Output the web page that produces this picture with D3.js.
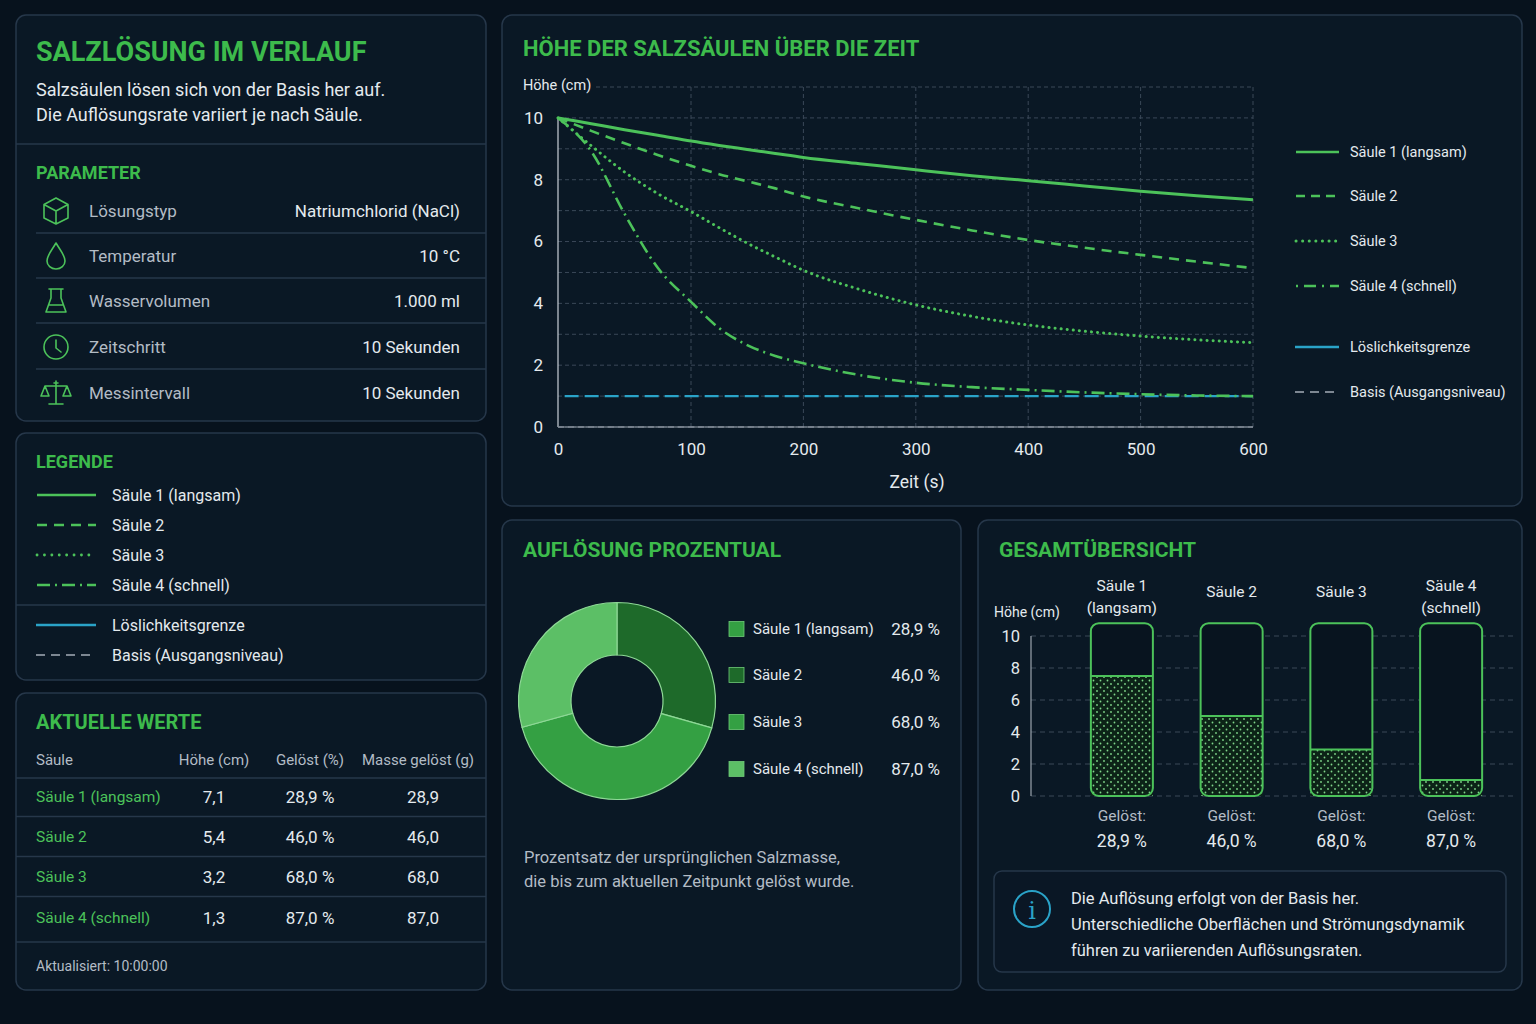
<!DOCTYPE html>
<html lang="de">
<head>
<meta charset="utf-8">
<script src="https://cdn.jsdelivr.net/npm/d3@7"></script>
<style>
  html,body{margin:0;padding:0;background:#07121d;}
  svg{display:block;font-family:Roboto,"Noto Sans",sans-serif;}
</style>
</head>
<body>
<svg id="c" width="1536" height="1024"></svg>
<script>
// ---------------- DATA ----------------
const seriesNames = ["Säule 1 (langsam)", "Säule 2", "Säule 3", "Säule 4 (schnell)"];
const times   = [0, 25, 50, 75, 100, 125, 150, 175, 200, 250, 300, 350, 400, 450, 500, 550, 600];
const saeule1 = [10, 9.81, 9.62, 9.44, 9.25, 9.11, 8.98, 8.85, 8.72, 8.52, 8.32, 8.13, 7.97, 7.80, 7.63, 7.48, 7.35];
const saeule2 = [10, 9.58, 9.18, 8.80, 8.45, 8.18, 7.95, 7.72, 7.46, 7.07, 6.70, 6.36, 6.05, 5.80, 5.57, 5.35, 5.14];
const saeule3 = [10, 9.10, 8.25, 7.55, 6.97, 6.45, 5.95, 5.50, 5.07, 4.45, 3.95, 3.58, 3.30, 3.10, 2.94, 2.82, 2.73];
const saeule4 = [10, 8.92, 6.90, 5.15, 4.05, 3.20, 2.65, 2.30, 2.06, 1.68, 1.43, 1.29, 1.20, 1.12, 1.06, 1.02, 1.00];
const solubilityLimit = 1.0;
const solubilityStart = 5;
const baseLevel = 0;
const xTicks = [0, 100, 200, 300, 400, 500, 600];
const yTicks = [0, 2, 4, 6, 8, 10];
const yGrid = [0, 1, 2, 3, 4, 5, 6, 7, 8, 9, 10, 11];

const paramLabels = ["Lösungstyp", "Temperatur", "Wasservolumen", "Zeitschritt", "Messintervall"];
const paramValues = ["Natriumchlorid (NaCl)", "10 °C", "1.000 ml", "10 Sekunden", "10 Sekunden"];
const paramIcons = ["cube", "drop", "flask", "clock", "scale"];

const tableHeaders = ["Säule", "Höhe (cm)", "Gelöst (%)", "Masse gelöst (g)"];
const currentHeights = [7.1, 5.4, 3.2, 1.3];
const dissolvedPct = [28.9, 46.0, 68.0, 87.0];
const massDissolved = [28.9, 46.0, 68.0, 87.0];

const donutSlices = ["Säule 2", "Säule 3", "Säule 4 (schnell)"];
const donutShares = [29.4, 41.3, 29.3];

const barLabelsTop = [["Säule 1", "(langsam)"], ["Säule 2"], ["Säule 3"], ["Säule 4", "(schnell)"]];
const barHeights = [7.5, 5.0, 2.9, 1.0];
const barYTicks = [0, 2, 4, 6, 8, 10];
const columnMax = 10.8;

// ---------------- STYLE ----------------
const C = {
  panel: "#0a1825", border: "#26374a", title: "#3dbb4c", line: "#4cc25a",
  text: "#e4eaee", sub: "#b3bcc5", blue: "#2aa3c8", gray: "#7d8792", grid: "#3a4858",
  dark: "#1e6a2a", mid: "#34a043", light: "#5cbf66"
};
const dashes = ["", "10,7", "0.1,6", "13,5,2,5"];
const seriesData = [saeule1, saeule2, saeule3, saeule4];
const loc = d3.formatLocale({decimal: ",", thousands: ".", grouping: [3], currency: ["", "€"]});
const f1 = loc.format(".1f");

const svg = d3.select("#c");
const defs = svg.append("defs");
const pat = defs.append("pattern").attr("id", "dots").attr("patternUnits", "userSpaceOnUse")
  .attr("width", 7).attr("height", 7);
pat.append("rect").attr("width", 7).attr("height", 7).attr("fill", "#0c2317");
pat.append("circle").attr("cx", 1.5).attr("cy", 1.5).attr("r", 0.9).attr("fill", "#7fd68a");
pat.append("circle").attr("cx", 5).attr("cy", 5).attr("r", 0.9).attr("fill", "#7fd68a");

svg.append("rect").attr("width", 1536).attr("height", 1024).attr("fill", "#07121d");

function panel(x, y, w, h) {
  svg.append("rect").attr("x", x).attr("y", y).attr("width", w).attr("height", h)
    .attr("rx", 10).attr("fill", C.panel).attr("stroke", C.border).attr("stroke-width", 1.5);
}
function text(x, y, s, o = {}) {
  return svg.append("text").attr("x", x).attr("y", y).text(s)
    .attr("dominant-baseline", "central")
    .attr("font-size", o.size || 16).attr("font-weight", o.weight || 400)
    .attr("fill", o.fill || C.text).attr("text-anchor", o.anchor || "start");
}
function hline(x1, x2, y, col) {
  svg.append("line").attr("x1", x1).attr("x2", x2).attr("y1", y).attr("y2", y)
    .attr("stroke", col || C.border).attr("stroke-width", 1.5);
}

// ---------------- PANEL A ----------------
panel(16, 15, 470, 406);
text(36, 52, "SALZLÖSUNG IM VERLAUF", {size: 27, weight: 700, fill: C.title});
text(36, 89, "Salzsäulen lösen sich von der Basis her auf.", {size: 18});
text(36, 114, "Die Auflösungsrate variiert je nach Säule.", {size: 18});
hline(16, 486, 144);
text(36, 172, "PARAMETER", {size: 18, weight: 700, fill: C.title});
const rowY = [211, 256, 301, 347, 393];
paramLabels.forEach((l, i) => {
  const y = rowY[i];
  text(89, y, l, {size: 17, fill: C.sub});
  text(460, y, paramValues[i], {size: 17, anchor: "end"});
  if (i < paramLabels.length - 1) hline(36, 486, y + 22);
  const g = svg.append("g").attr("transform", `translate(56,${y})`)
    .attr("fill", "none").attr("stroke", C.line).attr("stroke-width", 1.6)
    .attr("stroke-linejoin", "round").attr("stroke-linecap", "round");
  const ic = paramIcons[i];
  if (ic === "cube") {
    g.append("path").attr("d", "M0,-13 L12,-6.5 L12,7 L0,13 L-12,7 L-12,-6.5 Z M-12,-6.5 L0,0 L12,-6.5 M0,0 L0,13");
  } else if (ic === "drop") {
    g.append("path").attr("d", "M0,-13 C4,-6 9,-1 9,5 A9,8 0 0 1 -9,5 C-9,-1 -4,-6 0,-13 Z");
  } else if (ic === "flask") {
    g.append("path").attr("d", "M-7,-12 L7,-12 M-5,-12 L-5,-3 L-10,11 L10,11 L5,-3 L5,-12 M-7.5,4 L7.5,4");
  } else if (ic === "clock") {
    g.append("circle").attr("r", 12);
    g.append("path").attr("d", "M0,-7 L0,1 L5,5");
  } else {
    g.append("path").attr("d", "M0,-12 L0,11 M-7,11 L7,11 M-11,-7 L11,-7 M-11,-7 L-15,3 L-7,3 Z M11,-7 L7,3 L15,3 Z M-2,-10 L2,-10");
  }
});

// ---------------- PANEL B (Legende) ----------------
panel(16, 433, 470, 247);
text(36, 461, "LEGENDE", {size: 18, weight: 700, fill: C.title});
const legY = [495, 525, 555, 585];
seriesNames.forEach((n, i) => {
  svg.append("line").attr("x1", 37).attr("x2", 96).attr("y1", legY[i]).attr("y2", legY[i])
    .attr("stroke", C.line).attr("stroke-width", i === 2 ? 2.8 : 2.5)
    .attr("stroke-linecap", i === 2 ? "round" : "butt")
    .attr("stroke-dasharray", i === 2 ? "0.1,7.3" : (dashes[i] || null));
  text(112, legY[i], n, {size: 16});
});
hline(16, 486, 605);
svg.append("line").attr("x1", 36).attr("x2", 96).attr("y1", 625).attr("y2", 625)
  .attr("stroke", C.blue).attr("stroke-width", 2.5);
text(112, 625, "Löslichkeitsgrenze", {size: 16});
svg.append("line").attr("x1", 36).attr("x2", 96).attr("y1", 655).attr("y2", 655)
  .attr("stroke", C.gray).attr("stroke-width", 2).attr("stroke-dasharray", "9,6");
text(112, 655, "Basis (Ausgangsniveau)", {size: 16});

// ---------------- PANEL C (Tabelle) ----------------
panel(16, 693, 470, 297);
text(36, 722, "AKTUELLE WERTE", {size: 20, weight: 700, fill: C.title});
const colX = [36, 214, 310, 418];
tableHeaders.forEach((h, i) => text(colX[i], 760, h, {size: 15, fill: C.sub, anchor: i === 0 ? "start" : "middle"}));
hline(16, 486, 778);
const trY = [797, 837, 877, 918];
seriesNames.forEach((n, i) => {
  text(36, trY[i], n, {size: 15.5, fill: C.line});
  text(214, trY[i], f1(currentHeights[i]), {size: 17, anchor: "middle"});
  text(310, trY[i], f1(dissolvedPct[i]) + " %", {size: 17, anchor: "middle"});
  text(423, trY[i], f1(massDissolved[i]), {size: 17, anchor: "middle"});
  hline(16, 486, trY[i] + (i === 3 ? 24 : 19.5));
});
text(36, 966, "Aktualisiert: 10:00:00", {size: 14, fill: C.sub});

// ---------------- PANEL D (Liniendiagramm) ----------------
panel(502, 15, 1020, 491);
text(523, 48, "HÖHE DER SALZSÄULEN ÜBER DIE ZEIT", {size: 22, weight: 700, fill: C.title});
const x = d3.scaleLinear().domain([0, 100, 600]).range([558, 691, 1253]);
const y = d3.scaleLinear().domain([0, 11]).range([427, 87]);
const gGrid = svg.append("g");
gGrid.selectAll("line.h").data(yGrid).join("line")
  .attr("x1", d => d === 11 ? 596 : x(0)).attr("x2", x(600))
  .attr("y1", d => y(d)).attr("y2", d => y(d))
  .attr("stroke", C.grid).attr("stroke-width", 1).attr("stroke-dasharray", "4,3");
gGrid.selectAll("line.v").data(xTicks.slice(1)).join("line")
  .attr("x1", d => x(d)).attr("x2", d => x(d)).attr("y1", y(11)).attr("y2", y(0))
  .attr("stroke", C.grid).attr("stroke-width", 1).attr("stroke-dasharray", "4,3");
svg.append("line").attr("x1", x(0)).attr("x2", x(0)).attr("y1", y(10)).attr("y2", y(0))
  .attr("stroke", "#c9d1d8").attr("stroke-width", 1.2);
svg.append("line").attr("x1", x(0)).attr("x2", x(600)).attr("y1", y(0)).attr("y2", y(0))
  .attr("stroke", "#9aa4ad").attr("stroke-width", 1.2);

const yAx = svg.append("g").attr("transform", `translate(${x(0)},0)`)
  .call(d3.axisLeft(y).tickValues(yTicks).tickSize(0).tickPadding(15).tickFormat(d3.format("d")));
yAx.select(".domain").remove();
yAx.selectAll("text").attr("font-size", 17).attr("fill", C.text).attr("font-family", "Roboto");
const xAx = svg.append("g").attr("transform", `translate(0,${y(0)})`)
  .call(d3.axisBottom(x).tickValues(xTicks).tickSize(0).tickPadding(16).tickFormat(d3.format("d")));
xAx.select(".domain").remove();
xAx.selectAll("text").attr("font-size", 17).attr("fill", C.text).attr("font-family", "Roboto");
text(523, 85, "Höhe (cm)", {size: 14.5});
text(917, 482, "Zeit (s)", {size: 17.5, anchor: "middle"});

// Basis & solubility
svg.append("line").attr("x1", x(0)).attr("x2", x(600)).attr("y1", y(baseLevel)).attr("y2", y(baseLevel))
  .attr("stroke", C.gray).attr("stroke-width", 1.5).attr("stroke-dasharray", "6,4");
svg.append("line").attr("x1", x(solubilityStart)).attr("x2", x(600))
  .attr("y1", y(solubilityLimit)).attr("y2", y(solubilityLimit))
  .attr("stroke", C.blue).attr("stroke-width", 2.2).attr("stroke-dasharray", "14,6");

const lineGen = d3.line().x((d, i) => x(times[i])).y(d => y(d)).curve(d3.curveMonotoneX);
seriesData.forEach((s, i) => {
  svg.append("path").datum(s).attr("d", lineGen).attr("fill", "none")
    .attr("stroke", C.line).attr("stroke-width", i === 0 ? 3 : i === 2 ? 3 : 2.6)
    .attr("stroke-linecap", i === 2 ? "round" : "butt")
    .attr("stroke-dasharray", dashes[i] || null);
});

// right legend
const rLegY = [152, 196, 241, 286];
seriesNames.forEach((n, i) => {
  svg.append("line").attr("x1", 1296).attr("x2", 1339).attr("y1", rLegY[i]).attr("y2", rLegY[i])
    .attr("stroke", C.line).attr("stroke-width", i === 2 ? 3 : 2.6)
    .attr("stroke-linecap", i === 2 ? "round" : "butt")
    .attr("stroke-dasharray", i === 1 ? "9,6" : i === 2 ? "0.1,6.5" : i === 3 ? "2,6,12,6" : null);
  text(1350, rLegY[i], n, {size: 14.5});
});
svg.append("line").attr("x1", 1295).attr("x2", 1339).attr("y1", 347).attr("y2", 347)
  .attr("stroke", C.blue).attr("stroke-width", 2.6);
text(1350, 347, "Löslichkeitsgrenze", {size: 14.5});
svg.append("line").attr("x1", 1295).attr("x2", 1339).attr("y1", 392).attr("y2", 392)
  .attr("stroke", C.gray).attr("stroke-width", 2).attr("stroke-dasharray", "9,6");
text(1350, 392, "Basis (Ausgangsniveau)", {size: 14.5});

// ---------------- PANEL E (Donut) ----------------
panel(502, 520, 459, 470);
text(523, 550, "AUFLÖSUNG PROZENTUAL", {size: 21, weight: 700, fill: C.title});
const sliceColor = d3.scaleOrdinal().domain(donutSlices).range([C.dark, C.mid, C.light]);
const pie = d3.pie().sort(null).value(d => d.v);
const arc = d3.arc().innerRadius(46).outerRadius(98.5);
const gD = svg.append("g").attr("transform", "translate(617,701)");
gD.selectAll("path").data(pie(donutSlices.map((k, i) => ({k, v: donutShares[i]})))).join("path")
  .attr("d", arc).attr("fill", d => sliceColor(d.data.k))
  .attr("stroke", "#8ed896").attr("stroke-width", 1.2);
const swatchCol = [C.mid, C.dark, C.mid, C.light];
const dLegY = [629, 675, 722, 769];
seriesNames.forEach((n, i) => {
  svg.append("rect").attr("x", 729).attr("y", dLegY[i] - 7.5).attr("width", 15).attr("height", 15)
    .attr("fill", swatchCol[i]).attr("stroke", "#6fca78").attr("stroke-width", 0.8);
  text(753, dLegY[i], n, {size: 15});
  text(940, dLegY[i], f1(dissolvedPct[i]) + " %", {size: 17, anchor: "end"});
});
text(524, 857, "Prozentsatz der ursprünglichen Salzmasse,", {size: 16.5, fill: C.sub});
text(524, 881, "die bis zum aktuellen Zeitpunkt gelöst wurde.", {size: 16.5, fill: C.sub});

// ---------------- PANEL F (Balken) ----------------
panel(978, 520, 544, 470);
text(999, 550, "GESAMTÜBERSICHT", {size: 21, weight: 700, fill: C.title});
const by = d3.scaleLinear().domain([0, 10]).range([796, 636]);
const bx = d3.scaleBand().domain(seriesNames).range([1067, 1506]).paddingInner(0.435).paddingOuter(0.2175);
svg.append("g").selectAll("line").data(barYTicks).join("line")
  .attr("x1", 1031).attr("x2", 1515).attr("y1", d => by(d)).attr("y2", d => by(d))
  .attr("stroke", C.grid).attr("stroke-width", 1).attr("stroke-dasharray", "5,4");
svg.append("line").attr("x1", 1031).attr("x2", 1031).attr("y1", by(10)).attr("y2", by(0))
  .attr("stroke", "#9aa4ad").attr("stroke-width", 1.2);
const byAx = svg.append("g").attr("transform", "translate(1031,0)")
  .call(d3.axisLeft(by).tickValues(barYTicks).tickSize(0).tickPadding(11).tickFormat(d3.format("d")));
byAx.select(".domain").remove();
byAx.selectAll("text").attr("font-size", 16.5).attr("fill", C.text).attr("font-family", "Roboto");
text(994, 612, "Höhe (cm)", {size: 14});

seriesNames.forEach((n, i) => {
  const x0 = bx(n), w = bx.bandwidth(), cx = x0 + w / 2;
  svg.append("rect").attr("x", x0).attr("y", by(columnMax)).attr("width", w)
    .attr("height", by(0) - by(columnMax)).attr("rx", 8).attr("fill", "#08141f");
  svg.append("rect").attr("x", x0).attr("y", by(barHeights[i])).attr("width", w)
    .attr("height", by(0) - by(barHeights[i])).attr("fill", "url(#dots)");
  svg.append("line").attr("x1", x0).attr("x2", x0 + w).attr("y1", by(barHeights[i])).attr("y2", by(barHeights[i]))
    .attr("stroke", C.line).attr("stroke-width", 2);
  svg.append("rect").attr("x", x0).attr("y", by(columnMax)).attr("width", w)
    .attr("height", by(0) - by(columnMax)).attr("rx", 8).attr("fill", "none")
    .attr("stroke", C.line).attr("stroke-width", 2);
  const tl = barLabelsTop[i];
  if (tl.length === 2) {
    text(cx, 586, tl[0], {size: 15.5, anchor: "middle"});
    text(cx, 608, tl[1], {size: 15.5, anchor: "middle"});
  } else {
    text(cx, 592, tl[0], {size: 15.5, anchor: "middle"});
  }
  text(cx, 816, "Gelöst:", {size: 15.5, fill: C.sub, anchor: "middle"});
  text(cx, 841, f1(dissolvedPct[i]) + " %", {size: 17.5, anchor: "middle"});
});

// info box
svg.append("rect").attr("x", 994).attr("y", 871).attr("width", 512).attr("height", 101)
  .attr("rx", 8).attr("fill", "#0a1725").attr("stroke", C.border).attr("stroke-width", 1.5);
svg.append("circle").attr("cx", 1032).attr("cy", 909).attr("r", 18)
  .attr("fill", "none").attr("stroke", C.blue).attr("stroke-width", 2);
text(1032, 911, "i", {size: 24, anchor: "middle", fill: C.blue}).attr("font-family", "DejaVu Serif");
text(1071, 898, "Die Auflösung erfolgt von der Basis her.", {size: 16.5, fill: C.text});
text(1071, 924, "Unterschiedliche Oberflächen und Strömungsdynamik", {size: 16.5, fill: C.text});
text(1071, 950, "führen zu variierenden Auflösungsraten.", {size: 16.5, fill: C.text});
</script>
</body>
</html>
